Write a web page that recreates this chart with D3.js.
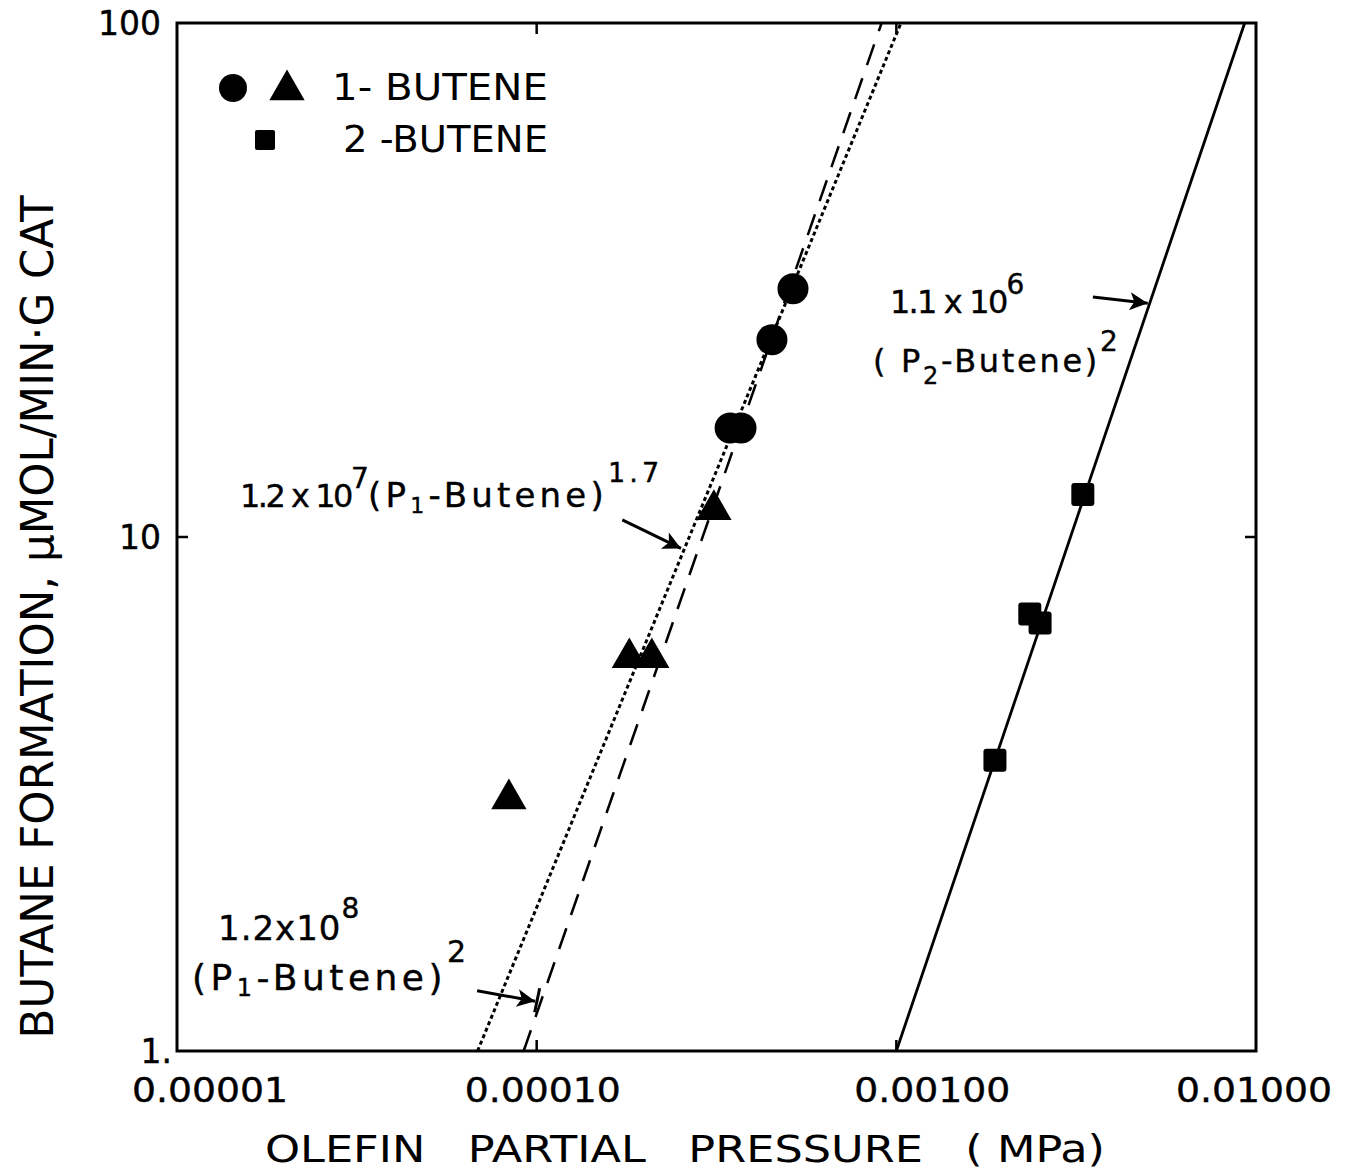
<!DOCTYPE html>
<html>
<head>
<meta charset="utf-8">
<script src="https://cdn.jsdelivr.net/npm/d3@7"></script>
<style>
  body { margin: 0; background: #fff; }
  svg { display: block; font-family: "DejaVu Sans", sans-serif; }
  text { white-space: pre; fill: #000; }
</style>
</head>
<body>
<div id="chart"></div>
<script>
/* DATA */
const xTicks = [1e-5, 1e-4, 1e-3, 1e-2];
const xTickLabels = ["0.00001", "0.00010", "0.00100", "0.01000"];
const yTicks = [1, 10, 100];
const yTickLabels = ["1.", "10", "100"];

// 1-butene, circles
const circleP = [5.16e-4, 4.51e-4, 3.45e-4, 3.70e-4];
const circleRate = [30.4, 24.2, 16.3, 16.3];
// 1-butene, triangles
const triP = [3.11e-4, 1.81e-4, 2.09e-4, 8.37e-5];
const triRate = [11.4, 5.87, 5.87, 3.12];
// 2-butene, squares
const sqP = [3.30e-3, 2.35e-3, 2.51e-3, 1.88e-3];
const sqRate = [12.1, 7.08, 6.80, 3.68];

// fitted power-law lines, end points [P, rate]
const fitDotted = [[6.85e-5, 1], [1.03e-3, 100]];   // 1.2e7 P^1.7
const fitDashed = [[9.2e-5, 1], [9.1e-4, 100]];     // 1.2e8 P^2
const fitSolid = [[1.0e-3, 1], [9.3e-3, 100]];      // 1.1e6 P^2

/* LAYOUT */
const W = 1352, H = 1173;
const plot = { left: 177, right: 1256, top: 23, bottom: 1051 };
const xLabelShift = [33, 6, 36, -2]; // hand-lettered labels sit off-centre

const x = d3.scaleLog().domain([1e-5, 1e-2]).range([plot.left, plot.right]);
const y = d3.scaleLog().domain([1, 100]).range([plot.bottom, plot.top]);

const svg = d3.select("#chart").append("svg")
  .attr("width", W).attr("height", H);

// arrow head
svg.append("defs").append("marker")
  .attr("id", "arrow")
  .attr("viewBox", "0 0 10 10")
  .attr("refX", 10).attr("refY", 5)
  .attr("markerWidth", 8).attr("markerHeight", 6)
  .attr("markerUnits", "strokeWidth")
  .attr("orient", "auto")
  .append("path").attr("d", "M0,0 L10,5 L0,10 L2.5,5 Z").attr("fill", "#000");

/* FRAME AND TICKS */
svg.append("rect")
  .attr("x", plot.left).attr("y", plot.top)
  .attr("width", plot.right - plot.left).attr("height", plot.bottom - plot.top)
  .attr("fill", "none").attr("stroke", "#000").attr("stroke-width", 3);

const tickLen = 11;
const inner = svg.append("g").attr("stroke", "#000").attr("stroke-width", 2.5);
xTicks.slice(1, -1).forEach((t) => {
  inner.append("line").attr("x1", x(t)).attr("x2", x(t)).attr("y1", plot.top).attr("y2", plot.top + tickLen);
  inner.append("line").attr("x1", x(t)).attr("x2", x(t)).attr("y1", plot.bottom).attr("y2", plot.bottom - tickLen);
});
yTicks.slice(1, -1).forEach((t) => {
  inner.append("line").attr("y1", y(t)).attr("y2", y(t)).attr("x1", plot.left).attr("x2", plot.left + tickLen);
  inner.append("line").attr("y1", y(t)).attr("y2", y(t)).attr("x1", plot.right).attr("x2", plot.right - tickLen);
});

// tick labels
svg.append("g").selectAll("text")
  .data(xTicks).enter().append("text")
  .attr("x", (d, i) => x(d) + xLabelShift[i]).attr("y", plot.bottom + 51)
  .attr("text-anchor", "middle")
  .attr("font-size", 33)
  .attr("stroke", "#000").attr("stroke-width", 0.4)
  .attr("textLength", 156).attr("lengthAdjust", "spacingAndGlyphs")
  .text((d, i) => xTickLabels[i]);

svg.append("g").selectAll("text")
  .data(yTicks).enter().append("text")
  .attr("x", (d, i) => (i === 0 ? plot.left - 5 : plot.left - 16))
  .attr("y", (d) => y(d) + 12)
  .attr("text-anchor", "end")
  .attr("font-size", 33)
  .attr("stroke", "#000").attr("stroke-width", 0.4)
  .text((d, i) => yTickLabels[i]);

// axis titles
svg.append("text")
  .attr("x", 265).attr("y", 1162)
  .attr("font-size", 37)
  .attr("textLength", 840).attr("lengthAdjust", "spacingAndGlyphs")
  .text("OLEFIN   PARTIAL   PRESSURE   ( MPa)");

svg.append("text")
  .attr("transform", "translate(53,617) rotate(-90)")
  .attr("text-anchor", "middle")
  .attr("font-size", 44)
  .attr("textLength", 843).attr("lengthAdjust", "spacingAndGlyphs")
  .text("BUTANE FORMATION, μMOL/MIN·G CAT");

/* FIT LINES */
const line = d3.line().x((d) => x(d[0])).y((d) => y(d[1]));
const lines = svg.append("g").attr("fill", "none").attr("stroke", "#000");
lines.append("path").attr("d", line(fitDotted))
  .attr("stroke-width", 3).attr("stroke-dasharray", "4,3");
lines.append("path").attr("d", line(fitDashed))
  .attr("stroke-width", 2.5).attr("stroke-dasharray", "22,14");
lines.append("path").attr("d", line(fitSolid))
  .attr("stroke-width", 2.8);

/* POINTS */
const pts = svg.append("g").attr("fill", "#000");
pts.selectAll("circle")
  .data(circleP).enter().append("circle")
  .attr("cx", (d) => x(d)).attr("cy", (d, i) => y(circleRate[i]))
  .attr("r", 15.5);

const triangle = d3.symbol().type(d3.symbolTriangle).size(540);
pts.selectAll("path.tri")
  .data(triP).enter().append("path")
  .attr("class", "tri")
  .attr("transform", (d, i) => `translate(${x(d)},${y(triRate[i]) + 2})`)
  .attr("d", triangle);

const sqSide = 23;
pts.selectAll("rect")
  .data(sqP).enter().append("rect")
  .attr("x", (d) => x(d) - sqSide / 2)
  .attr("y", (d, i) => y(sqRate[i]) - sqSide / 2)
  .attr("width", sqSide).attr("height", sqSide).attr("rx", 3);

/* LEGEND */
const legend = svg.append("g");
legend.append("circle").attr("cx", 233).attr("cy", 88).attr("r", 14);
legend.append("path").attr("transform", "translate(287,90)").attr("d", triangle);
legend.append("rect").attr("x", 255).attr("y", 130).attr("width", 20).attr("height", 20).attr("rx", 2);
legend.append("text").attr("x", 332).attr("y", 100).attr("font-size", 37)
  .attr("textLength", 216).attr("lengthAdjust", "spacingAndGlyphs").text("1- BUTENE");
legend.append("text").attr("x", 343).attr("y", 152).attr("font-size", 37)
  .attr("textLength", 205).attr("lengthAdjust", "spacingAndGlyphs").text("2 -BUTENE");

/* ANNOTATIONS */
const ann = svg.append("g");
// each piece: [text, font size, dy]
function label(px, py, spacing, pieces) {
  const t = ann.append("text").attr("x", px).attr("y", py)
    .attr("letter-spacing", spacing)
    .attr("stroke", "#000").attr("stroke-width", 0.4);
  pieces.forEach((p) => {
    t.append("tspan").attr("font-size", p[1]).attr("dy", p[2]).text(p[0]);
  });
  return t;
}
label(890, 313, -1.8, [["1.1 x 10", 32, 0], ["6", 28, -19]]);
label(873, 372, 2.7, [["( P", 32, 0], ["2", 24, 12], ["-Butene)", 32, -12], ["2", 28, -21]]);
label(240, 507, -2.5, [["1.2 x 10", 32, 0], ["7", 28, -19]]);
label(368, 507, 4.2, [["(P", 34, 0], ["1", 22, 6], ["-Butene)", 34, -6], ["1.7", 27, -25]]);
label(218, 940, 1, [["1.2x10", 34, 0], ["8", 28, -22]]);
label(192, 990, 4.5, [["(P", 36, 0], ["1", 24, 6], ["-Butene)", 36, -6], ["2", 30, -28]]);

// arrows: [from [P, rate], to [P, rate]]
const arrows = [
  [[3.52e-3, 29.3], [5.0e-3, 28.5]],
  [[1.73e-4, 10.8], [2.52e-4, 9.5]],
  [[6.83e-5, 1.31], [9.9e-5, 1.25]]
];
ann.selectAll("line.arrow")
  .data(arrows).enter().append("line")
  .attr("class", "arrow")
  .attr("x1", (d) => x(d[0][0])).attr("y1", (d) => y(d[0][1]))
  .attr("x2", (d) => x(d[1][0])).attr("y2", (d) => y(d[1][1]))
  .attr("stroke", "#000").attr("stroke-width", 3)
  .attr("marker-end", "url(#arrow)");
// end bar on the lower arrow
ann.append("line")
  .attr("x1", x(1.0e-4) + 3).attr("y1", y(1.25) - 13)
  .attr("x2", x(1.0e-4) - 2).attr("y2", y(1.25) + 11)
  .attr("stroke", "#000").attr("stroke-width", 3);
</script>
</body>
</html>
